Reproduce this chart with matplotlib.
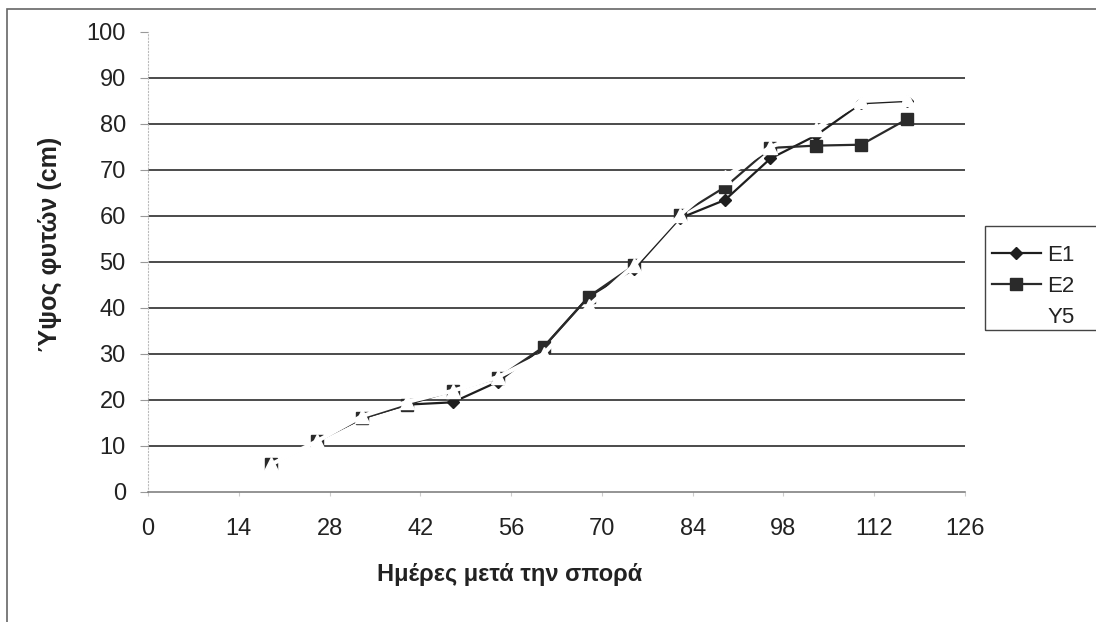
import matplotlib
matplotlib.use("Agg")
import matplotlib.pyplot as plt
from matplotlib.patches import Rectangle

plt.rcParams["font.family"] = ["Liberation Sans", "DejaVu Sans"]

# days after sowing
days = [19, 26, 33, 40, 47, 54, 61, 68, 75, 82, 89, 96, 103, 110, 117]

# plant height (cm)
e1 = [6, 11, 16, 19, 19.5, 24, 31.5, 42.5, 48.5, 59.5, 63.5, 72.5, 77.5, 84.5, 85]
e2 = [6, 11, 16, 19, 22, 24.8, 31.5, 42.5, 49.3, 60.2, 66.3, 74.8, 75.3, 75.5, 81]
y5 = [6, 11, 16.5, 19.6, 22, 25, 30, 40.5, 49.3, 60.2, 68.5, 75, 79, 85, 85.5]

x_ticks = [0, 14, 28, 42, 56, 70, 84, 98, 112, 126]
y_ticks = [0, 10, 20, 30, 40, 50, 60, 70, 80, 90, 100]

W, H = 1096, 622
fig = plt.figure(figsize=(W / 100, H / 100), dpi=100)
ax = fig.add_axes([148 / W, 1 - 492 / H, (965 - 148) / W, (492 - 32) / H])

l1, = ax.plot(days, e1, color="#1e1e1e", lw=1.6, marker="D", ms=6,
              mfc="#1e1e1e", mec="#1e1e1e", zorder=3, label="E1")
l2, = ax.plot(days, e2, color="#2a2a2a", lw=1.6, marker="s", ms=9,
              mfc="#2a2a2a", mec="#2a2a2a", zorder=3, label="E2")
# third series printed in a colour that the scan turned to white
l3, = ax.plot(days, y5, color="white", lw=3.0, marker="^", ms=10,
              mfc="white", mec="white", zorder=4, label="Y5")

ax.set_xlim(0, 126)
ax.set_ylim(0, 100)
ax.set_xticks(x_ticks)
ax.set_yticks(y_ticks)
ax.tick_params(axis="y", length=6, width=0.8, color="#999999", pad=10,
               labelsize=17, labelcolor="#222222")
ax.tick_params(axis="x", length=3, width=0.8, color="#cccccc", pad=16,
               labelsize=17, labelcolor="#222222")

ax.grid(axis="y", color="#1a1a1a", lw=1.1)
ax.set_axisbelow(True)
grid = ax.get_ygridlines()
grid[0].set_visible(False)
grid[-1].set_visible(False)

for side in ("top", "right"):
    ax.spines[side].set_visible(False)
ax.spines["left"].set_color("#bbbbbb")
ax.spines["left"].set_linestyle((0, (1, 2)))
ax.spines["bottom"].set_color("#777777")
ax.spines["bottom"].set_linewidth(1.1)

fig.text(510 / W, 1 - 574 / H, "Ημέρες μετά την σπορά", ha="center",
         va="center", fontsize=17, fontweight="bold", color="#222222")
fig.text(50 / W, 1 - 244 / H, "Ύψος φυτών (cm)", ha="center", va="center",
         rotation=90, fontsize=18, fontweight="bold", color="#222222")

# legend, boxed by hand so the frame runs off the right edge like the scan
leg = fig.legend(handles=[l1, l2, l3], loc="upper left",
                 bbox_to_anchor=(992 / W, 1 - 245 / H), frameon=False,
                 fontsize=16, handlelength=2.2, handletextpad=0.3,
                 labelspacing=0.45, borderpad=0, borderaxespad=0)
for t in leg.get_texts():
    t.set_color("#222222")
fig.add_artist(Rectangle((985 / W, 1 - 330 / H), 0.2, (330 - 226) / H,
                         transform=fig.transFigure, fill=False,
                         edgecolor="#444444", lw=1.0))

# outer chart-area border (top and left visible)
fig.add_artist(Rectangle((7 / W, -0.1), 1.2, 1.1 - 9 / H,
                         transform=fig.transFigure, fill=False,
                         edgecolor="#666666", lw=1.2))

fig.savefig("out.png", dpi=100)
